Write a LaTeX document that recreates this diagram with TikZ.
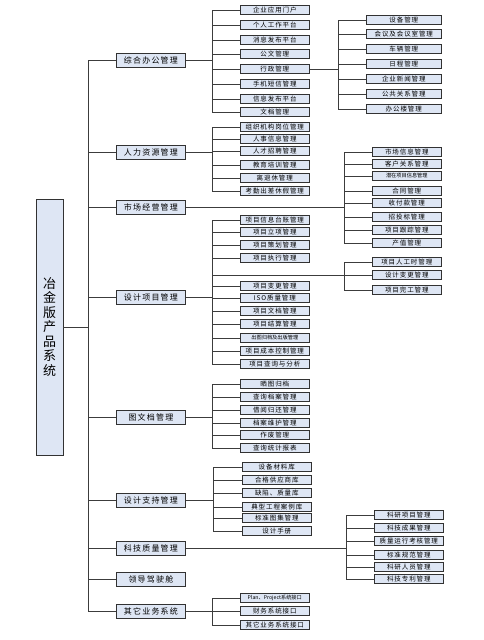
\documentclass[tikz,border=0pt]{standalone}
\usepackage{fontspec}
\usepackage{tikz}
\usetikzlibrary{positioning, shadows}
\newfontfamily\cjk{Noto Sans CJK SC}
\newfontfamily\cjkancho[LetterSpace=15]{Noto Sans CJK SC}
\newfontfamily\cjkmedio[LetterSpace=14]{Noto Sans CJK SC}
\definecolor{azulclaro}{RGB}{222, 230, 244}
\definecolor{bordeoscuro}{RGB}{50, 50, 50}
\definecolor{lineagris}{RGB}{60, 60, 60}

\begin{document}
\begin{tikzpicture}[
		x=1pt, y=-1pt,
		caja/.style = {
			rectangle,
			draw=bordeoscuro,
			line width=0.6pt,
			fill=azulclaro,
			inner sep=0pt,
			align=center,
			drop shadow={shadow xshift=0.9pt, shadow yshift=-0.9pt, fill=black!55, opacity=1}
		},
		raiz/.style = {caja, text width=14pt, minimum height=256pt, minimum width=27pt,
			font=\cjk\fontsize{13}{14.5}\selectfont},
		nivel1/.style = {caja, anchor=west, line width=0.8pt, minimum width=69pt, minimum height=14pt,
			font=\cjkancho\fontsize{8}{8}\selectfont},
		nivel2/.style = {caja, anchor=west, minimum width=69pt, minimum height=9pt,
			font=\cjkmedio\fontsize{6.5}{6.5}\selectfont},
		ancho/.style = {minimum width=75pt},
		chico/.style = {font=\cjk\fontsize{5.2}{5.2}\selectfont},
		conector/.style = {draw=lineagris, line width=0.7pt}
		]
		\useasboundingbox (0,0) rectangle (483,640);
		
		% Nodo raiz
		\node[raiz] (sistema) at (49.5,327) {冶\\金\\版\\产\\品\\系\\统};
		\coordinate (bus) at (88,327);
		
		% Primer nivel
		\node[nivel1] (oficina)  at (116,60)  {综合办公管理};
		\node[nivel1] (rrhh)     at (116,152) {人力资源管理};
		\node[nivel1] (mercado)  at (116,207) {市场经营管理};
		\node[nivel1] (proyecto) at (116,297) {设计项目管理};
		\node[nivel1] (archivo)  at (116,417) {图文档管理};
		\node[nivel1] (soporte)  at (116,500) {设计支持管理};
		\node[nivel1] (calidad)  at (116,548) {科技质量管理};
		\node[nivel1] (cabina)   at (116,579) {领导驾驶舱};
		\node[nivel1] (otros)    at (116,611) {其它业务系统};
		
		% Oficina
		\coordinate (fkoficina) at (212,60);
		\node[nivel2] (portal)         at (240,10)  {企业应用门户};
		\node[nivel2] (personal)       at (240,25)  {个人工作平台};
		\node[nivel2] (mensajes)       at (240,40)  {消息发布平台};
		\node[nivel2] (documentos)     at (240,54)  {公文管理};
		\node[nivel2] (administracion) at (240,69)  {行政管理};
		\node[nivel2] (sms)            at (240,84)  {手机短信管理};
		\node[nivel2] (infopub)        at (240,99)  {信息发布平台};
		\node[nivel2] (archivos)       at (240,112) {文档管理};
		
		% Administracion
		\coordinate (fkadmin) at (338,69);
		\node[nivel2, ancho] (equipos)    at (366,20)  {设备管理};
		\node[nivel2, ancho] (reuniones)  at (366,34)  {会议及会议室管理};
		\node[nivel2, ancho] (vehiculos)  at (366,49)  {车辆管理};
		\node[nivel2, ancho] (agenda)     at (366,64)  {日程管理};
		\node[nivel2, ancho] (noticias)   at (366,79)  {企业新闻管理};
		\node[nivel2, ancho] (relaciones) at (366,94)  {公共关系管理};
		\node[nivel2, ancho] (edificio)   at (366,109) {办公楼管理};
		
		% Recursos humanos
		\coordinate (fkrrhh) at (212,152);
		\node[nivel2] (organizacion)  at (240,127) {组织机构岗位管理};
		\node[nivel2] (personalinfo)  at (240,139) {人事信息管理};
		\node[nivel2] (reclutamiento) at (240,151) {人才招聘管理};
		\node[nivel2] (formacion)     at (240,165) {教育培训管理};
		\node[nivel2] (jubilacion)    at (240,178) {离退休管理};
		\node[nivel2] (asistencia)    at (240,191) {考勤出差休假管理};
		
		% Mercado
		\coordinate (fkmercado) at (344,207);
		\node[nivel2] (mercadoinfo)   at (372,152) {市场信息管理};
		\node[nivel2] (clientes)      at (372,164) {客户关系管理};
		\node[nivel2, chico] (potenciales) at (372,176) {潜在项目信息管理};
		\node[nivel2] (contratos)     at (372,191) {合同管理};
		\node[nivel2] (cobros)        at (372,203) {收付款管理};
		\node[nivel2] (licitaciones)  at (372,217) {招投标管理};
		\node[nivel2] (seguimiento)   at (372,230) {项目跟踪管理};
		\node[nivel2] (produccion)    at (372,243) {产值管理};
		
		% Proyecto
		\coordinate (fkproyecto) at (212,297);
		\node[nivel2] (registro)      at (240,220) {项目信息台账管理};
		\node[nivel2] (aprobacion)    at (240,232) {项目立项管理};
		\node[nivel2] (planificacion) at (240,245) {项目策划管理};
		\node[nivel2] (ejecucion)     at (240,258) {项目执行管理};
		\node[nivel2] (cambios)       at (240,286) {项目变更管理};
		\node[nivel2] (iso)           at (240,298) {ISO质量管理};
		\node[nivel2] (docproyecto)   at (240,311) {项目文档管理};
		\node[nivel2] (liquidacion)   at (240,324) {项目结算管理};
		\node[nivel2, chico] (planos) at (240,338) {出图归档及出版管理};
		\node[nivel2] (costes)        at (240,351) {项目成本控制管理};
		\node[nivel2] (consultas)     at (240,364) {项目查询与分析};
		
		% Ramal de ejecucion
		\coordinate (ramal) at (212,275);
		\coordinate (fkramal) at (344,275);
		\node[nivel2] (horas)          at (372,262) {项目人工时管理};
		\node[nivel2] (modificaciones) at (372,275) {设计变更管理};
		\node[nivel2] (cierre)         at (372,290) {项目完工管理};
		
		% Archivo
		\coordinate (fkarchivo) at (212,417);
		\node[nivel2] (copias)        at (240,384) {晒图归档};
		\node[nivel2] (busqueda)      at (240,397) {查询档案管理};
		\node[nivel2] (prestamo)      at (240,410) {借阅归还管理};
		\node[nivel2] (mantenimiento) at (240,423) {档案维护管理};
		\node[nivel2] (anulacion)     at (240,435) {作废管理};
		\node[nivel2] (estadisticas)  at (240,448) {查询统计报表};
		
		% Soporte
		\coordinate (fksoporte) at (213,500);
		\node[nivel2] (materiales)  at (242,467) {设备材料库};
		\node[nivel2] (proveedores) at (242,480) {合格供应商库};
		\node[nivel2] (defectos)    at (242,493) {缺陷、质量库};
		\node[nivel2] (casos)       at (242,507) {典型工程案例库};
		\node[nivel2] (normas)      at (242,518) {标准图集管理};
		\node[nivel2] (manual)      at (242,531) {设计手册};
		
		% Calidad
		\coordinate (fkcalidad) at (346,548);
		\node[nivel2] (investigacion)  at (374,515) {科研项目管理};
		\node[nivel2] (logros)         at (374,528) {科技成果管理};
		\node[nivel2] (evaluacion)     at (374,541) {质量运行考核管理};
		\node[nivel2] (estandares)     at (374,555) {标准规范管理};
		\node[nivel2] (investigadores) at (374,567) {科研人员管理};
		\node[nivel2] (patentes)       at (374,579) {科技专利管理};
		
		% Otros sistemas
		\coordinate (fkotros) at (212,611);
		\node[nivel2, chico] (plan)    at (240,598) {Plan、Project系统接口};
		\node[nivel2] (finanzas)       at (240,611) {财务系统接口};
		\node[nivel2] (otrasinterfaces) at (240,625) {其它业务系统接口};
		
		% Conectores
		\draw[conector] (sistema.east) -- (bus)
			(bus) |- (oficina.west) (bus) |- (rrhh.west) (bus) |- (mercado.west)
			(bus) |- (proyecto.west) (bus) |- (archivo.west) (bus) |- (soporte.west)
			(bus) |- (calidad.west) (bus) |- (cabina.west) (bus) |- (otros.west);
		\draw[conector] (oficina.east) -- (fkoficina)
			(fkoficina) |- (portal.west) (fkoficina) |- (personal.west)
			(fkoficina) |- (mensajes.west) (fkoficina) |- (documentos.west)
			(fkoficina) |- (administracion.west) (fkoficina) |- (sms.west)
			(fkoficina) |- (infopub.west) (fkoficina) |- (archivos.west);
		\draw[conector] (administracion.east) -- (fkadmin)
			(fkadmin) |- (equipos.west) (fkadmin) |- (reuniones.west)
			(fkadmin) |- (vehiculos.west) (fkadmin) |- (agenda.west)
			(fkadmin) |- (noticias.west) (fkadmin) |- (relaciones.west)
			(fkadmin) |- (edificio.west);
		\draw[conector] (rrhh.east) -- (fkrrhh)
			(fkrrhh) |- (organizacion.west) (fkrrhh) |- (personalinfo.west)
			(fkrrhh) |- (reclutamiento.west) (fkrrhh) |- (formacion.west)
			(fkrrhh) |- (jubilacion.west) (fkrrhh) |- (asistencia.west);
		\draw[conector] (mercado.east) -- (fkmercado)
			(fkmercado) |- (mercadoinfo.west) (fkmercado) |- (clientes.west)
			(fkmercado) |- (potenciales.west) (fkmercado) |- (contratos.west)
			(fkmercado) |- (cobros.west) (fkmercado) |- (licitaciones.west)
			(fkmercado) |- (seguimiento.west) (fkmercado) |- (produccion.west);
		\draw[conector] (proyecto.east) -- (fkproyecto)
			(fkproyecto) |- (registro.west) (fkproyecto) |- (aprobacion.west)
			(fkproyecto) |- (planificacion.west) (fkproyecto) |- (ejecucion.west)
			(fkproyecto) |- (cambios.west) (fkproyecto) |- (iso.west)
			(fkproyecto) |- (docproyecto.west) (fkproyecto) |- (liquidacion.west)
			(fkproyecto) |- (planos.west) (fkproyecto) |- (costes.west)
			(fkproyecto) |- (consultas.west);
		\draw[conector] (ramal) -- (fkramal)
			(fkramal) |- (horas.west) (fkramal) |- (modificaciones.west)
			(fkramal) |- (cierre.west);
		\draw[conector] (archivo.east) -- (fkarchivo)
			(fkarchivo) |- (copias.west) (fkarchivo) |- (busqueda.west)
			(fkarchivo) |- (prestamo.west) (fkarchivo) |- (mantenimiento.west)
			(fkarchivo) |- (anulacion.west) (fkarchivo) |- (estadisticas.west);
		\draw[conector] (soporte.east) -- (fksoporte)
			(fksoporte) |- (materiales.west) (fksoporte) |- (proveedores.west)
			(fksoporte) |- (defectos.west) (fksoporte) |- (casos.west)
			(fksoporte) |- (normas.west) (fksoporte) |- (manual.west);
		\draw[conector] (calidad.east) -- (fkcalidad)
			(fkcalidad) |- (investigacion.west) (fkcalidad) |- (logros.west)
			(fkcalidad) |- (evaluacion.west) (fkcalidad) |- (estandares.west)
			(fkcalidad) |- (investigadores.west) (fkcalidad) |- (patentes.west);
		\draw[conector] (otros.east) -- (fkotros)
			(fkotros) |- (plan.west) (fkotros) |- (finanzas.west)
			(fkotros) |- (otrasinterfaces.west);
		
	\end{tikzpicture}
\end{document}
